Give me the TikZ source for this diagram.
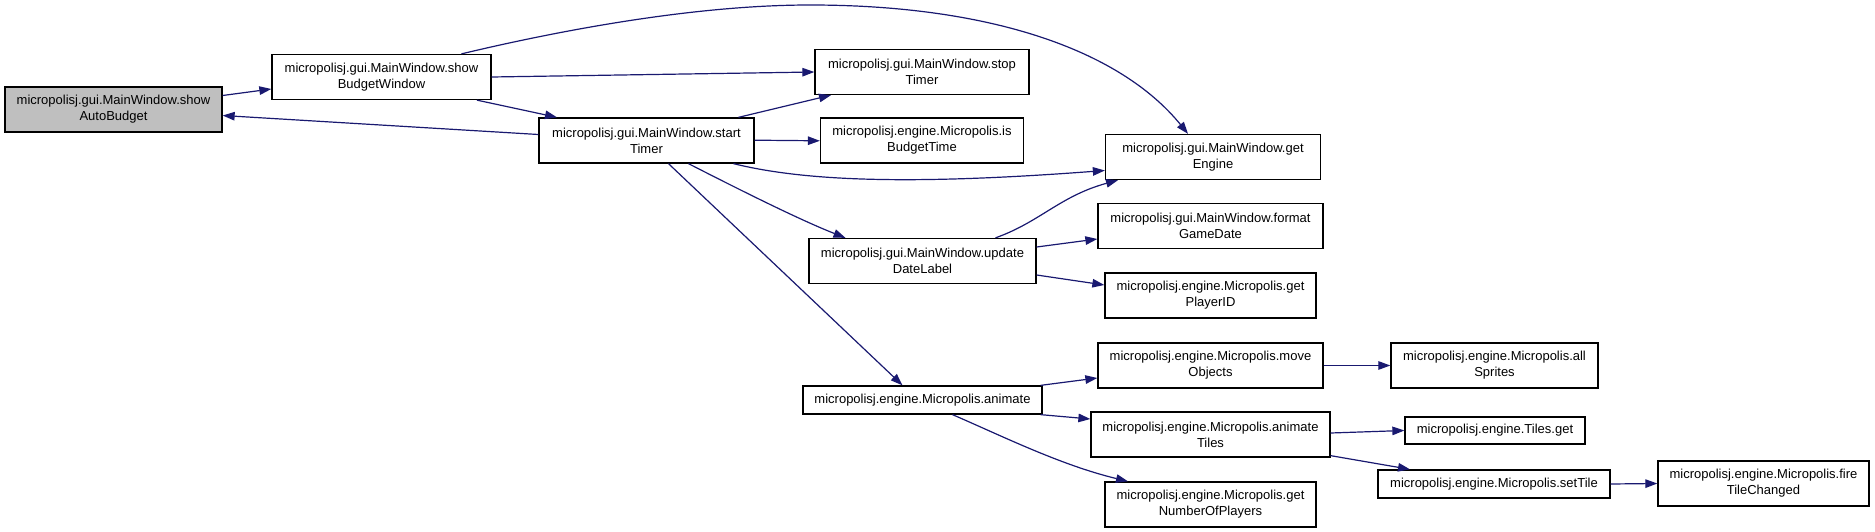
\documentclass[tikz,border=0pt]{standalone}
\usepackage{fontspec}
\setmainfont{Liberation Sans}
\usetikzlibrary{arrows.meta}
\definecolor{edgeblue}{HTML}{191970}
\definecolor{hilite}{HTML}{BFBFBF}
\begin{document}
\begin{tikzpicture}[x=1pt,y=-1pt,
  box/.style={draw=black, fill=white, line width=1.3pt, inner sep=0pt, align=center, font=\fontsize{13}{16}\selectfont},
  two/.style={minimum height=45pt},
  one/.style={minimum height=28pt},
  edge/.style={draw=edgeblue, line width=1.2pt, -{Triangle[length=12pt,width=8.5pt]}}]
\useasboundingbox (0,0) rectangle (1875,532);
% nodes
\node[box, two, fill=hilite, minimum width=217pt] (sab) at (113.5,109.5) {micropolisj.gui.MainWindow.show\\AutoBudget};
\node[box, two, minimum width=219pt] (sbw) at (381.5,77) {micropolisj.gui.MainWindow.show\\BudgetWindow};
\node[box, two, minimum width=214pt] (st) at (922,72) {micropolisj.gui.MainWindow.stop\\Timer};
\node[box, two, minimum width=215pt] (stt) at (646.5,140.5) {micropolisj.gui.MainWindow.start\\Timer};
\node[box, two, minimum width=203pt] (ibt) at (922,140.5) {micropolisj.engine.Micropolis.is\\BudgetTime};
\node[box, two, minimum width=215pt] (ge) at (1213,157) {micropolisj.gui.MainWindow.get\\Engine};
\node[box, two, minimum width=225pt] (fgd) at (1210.5,226) {micropolisj.gui.MainWindow.format\\GameDate};
\node[box, two, minimum width=227pt] (udl) at (922.5,261) {micropolisj.gui.MainWindow.update\\DateLabel};
\node[box, two, minimum width=211pt] (gpi) at (1210.5,295.5) {micropolisj.engine.Micropolis.get\\PlayerID};
\node[box, one, minimum width=239pt] (an) at (922.5,400) {micropolisj.engine.Micropolis.animate};
\node[box, two, minimum width=225pt] (mo) at (1210.5,365.5) {micropolisj.engine.Micropolis.move\\Objects};
\node[box, two, minimum width=239pt] (at) at (1210.5,434.5) {micropolisj.engine.Micropolis.animate\\Tiles};
\node[box, two, minimum width=211pt] (gnp) at (1210.5,504.5) {micropolisj.engine.Micropolis.get\\NumberOfPlayers};
\node[box, two, minimum width=207pt] (as) at (1494.5,365.5) {micropolisj.engine.Micropolis.all\\Sprites};
\node[box, one, minimum width=180pt, minimum height=27pt] (tg) at (1495,430.5) {micropolisj.engine.Tiles.get};
\node[box, one, minimum width=232pt] (stl) at (1494,484) {micropolisj.engine.Micropolis.setTile};
\node[box, two, minimum width=211pt] (ftc) at (1763.5,483.5) {micropolisj.engine.Micropolis.fire\\TileChanged};
% edges
\draw[edge] ([yshift=14pt]sab.east) -- ([yshift=-12pt]sbw.west);
\draw[edge] ([yshift=6pt]stt.west) -- ([yshift=-6pt]sab.east);
\draw[edge] ([xshift=95.5pt]sbw.south) -- ([xshift=-89.5pt]stt.north);
\draw[edge] (sbw.east) -- (st.west);
\draw[edge] ([xshift=80pt]sbw.north) .. controls (570,28) and (700,5) .. (810,5) .. controls (990,5) and (1120,50) .. ([xshift=-25pt]ge.north);
\draw[edge] ([xshift=92pt]stt.north) -- ([xshift=-91pt]st.south);
\draw[edge] ([yshift=0.3pt]stt.east) -- ([yshift=-0.3pt]ibt.west);
\draw[edge] ([xshift=87pt]stt.south) .. controls (800,180) and (900,186) .. ([yshift=-13.5pt]ge.west);
\draw[edge] ([xshift=42pt]stt.south) .. controls (740,190) and (800,220) .. ([xshift=-77pt]udl.north);
\draw[edge] ([xshift=22pt]stt.south) -- ([xshift=-20pt]an.north);
\draw[edge] ([xshift=73pt]udl.north) .. controls (1040,222) and (1060,196) .. ([xshift=-95pt]ge.south);
\draw[edge] ([yshift=14pt]udl.east) -- ([yshift=-13pt]fgd.west);
\draw[edge] ([yshift=-14pt]udl.east) -- ([yshift=10.5pt]gpi.west);
\draw[edge] ([xshift=-2pt]an.north east) -- ([yshift=-12.5pt]mo.west);
\draw[edge] ([xshift=-2pt]an.south east) -- ([yshift=15.5pt]at.west);
\draw[edge] ([xshift=30pt]an.south) .. controls (1000,435) and (1060,465) .. ([xshift=-82.5pt]gnp.north);
\draw[edge] (mo.east) -- (as.west);
\draw[edge] ([yshift=1.5pt]at.east) -- (tg.west);
\draw[edge] ([yshift=2pt]at.south east) -- ([xshift=-84pt]stl.north);
\draw[edge] (stl.east) -- (ftc.west);
\end{tikzpicture}
\end{document}
